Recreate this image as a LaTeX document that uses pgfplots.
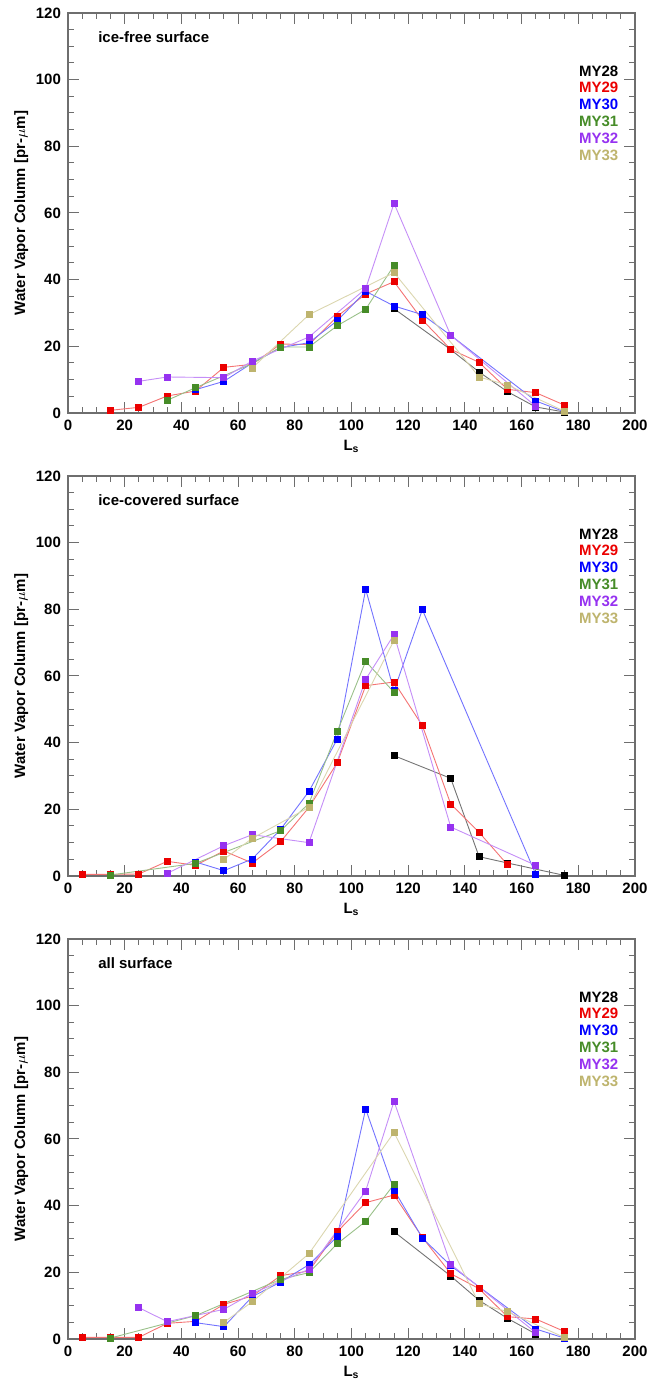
\documentclass[border=0pt]{standalone}
\usepackage{fontspec}
\setmainfont{Liberation Sans}
\usepackage{pgfplots}
\pgfplotsset{compat=1.18}
\definecolor{c28}{RGB}{0,0,0}
\definecolor{c29}{RGB}{235,0,0}
\definecolor{c30}{RGB}{0,0,255}
\definecolor{c31}{RGB}{70,140,40}
\definecolor{c32}{RGB}{150,50,240}
\definecolor{c33}{RGB}{190,180,110}
\definecolor{axgray}{RGB}{110,110,110}
\pgfplotsset{
 panel/.style={scale only axis, width=283.5pt, height=200pt,
   xmin=0, xmax=200, ymin=0, ymax=120,
   xtick={0,20,...,200}, ytick={0,20,...,120},
   minor x tick num=3, minor y tick num=3,
   tick align=inside, major tick length=5.5pt, minor tick length=2.8pt,
   tick style={axgray, line width=0.5pt},
   axis line style={axgray, line width=0.6pt},
   clip=false,
   /pgf/number format/assume math mode=true,
   ticklabel style={font=\fontsize{7.5}{9}\selectfont\bfseries},
   label style={font=\fontsize{7.5}{9}\selectfont\bfseries},
   xlabel={L\textsubscript{s}},
   ylabel={Water Vapor Column [pr-$\mu$m]},
   ylabel shift=-3pt, xlabel shift=-2pt,
   anchor=south west},
 ser/.style={color=#1!55, line width=0.45pt, mark=square*, mark size=1.5pt,
   mark options={draw=#1, fill=#1, solid}},
}
\newcommand{\legendtext}{%
  \node[anchor=east, text=c28, font=\fontsize{7.5}{9}\selectfont\bfseries] at (rel axis cs:0.983,0.855) {MY28};
  \node[anchor=east, text=c29, font=\fontsize{7.5}{9}\selectfont\bfseries] at (rel axis cs:0.983,0.813) {MY29};
  \node[anchor=east, text=c30, font=\fontsize{7.5}{9}\selectfont\bfseries] at (rel axis cs:0.983,0.771) {MY30};
  \node[anchor=east, text=c31, font=\fontsize{7.5}{9}\selectfont\bfseries] at (rel axis cs:0.983,0.729) {MY31};
  \node[anchor=east, text=c32, font=\fontsize{7.5}{9}\selectfont\bfseries] at (rel axis cs:0.983,0.687) {MY32};
  \node[anchor=east, text=c33, font=\fontsize{7.5}{9}\selectfont\bfseries] at (rel axis cs:0.983,0.645) {MY33};
}
\begin{document}
\begin{tikzpicture}
\path[use as bounding box] (0,0) rectangle (324pt,696pt);
% ---------------- Panel 1: ice-free surface
\begin{axis}[panel, at={(34pt,489.5pt)}]
\addplot[ser=c28] coordinates {(115,31.3)(135,19.0)(145,12.3)(155,6.4)(165,1.8)(175,0.3)};
\addplot[ser=c29] coordinates {(15,0.8)(25,1.7)(35,5.1)(45,6.6)(55,13.7)(65,14.6)(75,20.7)(85,20.5)(95,29.0)(105,35.7)(115,39.4)(125,27.9)(135,19.1)(145,15.2)(155,7.1)(165,6.1)(175,2.4)};
\addplot[ser=c30] coordinates {(45,7.0)(55,9.5)(65,15.0)(75,19.6)(85,21.1)(95,27.7)(105,36.5)(115,32.1)(125,29.5)(135,23.3)(165,3.6)(175,0.4)};
\addplot[ser=c31] coordinates {(35,3.8)(45,7.6)(65,14.8)(75,19.8)(85,19.8)(95,26.2)(105,31.1)(115,44.3)};
\addplot[ser=c32] coordinates {(25,9.5)(35,10.8)(55,10.6)(65,15.6)(85,22.8)(105,37.3)(115,62.9)(135,23.3)(165,2.0)};
\addplot[ser=c33] coordinates {(65,13.5)(85,29.5)(115,42.1)(145,10.8)(155,8.4)(175,0.6)};
\node[anchor=west, font=\fontsize{7.5}{9}\selectfont\bfseries] at (rel axis cs:0.041,0.94) {ice-free surface};
\legendtext
\end{axis}
% ---------------- Panel 2: ice-covered surface
\begin{axis}[panel, at={(34pt,258pt)}]
\addplot[ser=c28] coordinates {(115,36.1)(135,29.3)(145,5.8)(155,3.9)(175,0.2)};
\addplot[ser=c29] coordinates {(5,0.5)(15,0.5)(25,0.6)(35,4.4)(45,3.2)(55,7.5)(65,3.9)(75,10.3)(85,20.6)(95,34.0)(105,57.1)(115,58.2)(125,45.1)(135,21.6)(145,13.1)(155,3.4)};
\addplot[ser=c30] coordinates {(45,4.2)(55,1.6)(65,5.1)(75,14.0)(85,25.4)(95,41.1)(105,86.0)(115,55.6)(125,79.9)(165,0.5)};
\addplot[ser=c31] coordinates {(15,0.3)(45,3.8)(75,13.6)(85,21.8)(95,43.4)(105,64.4)(115,55.1)};
\addplot[ser=c32] coordinates {(35,0.8)(55,9.1)(65,12.4)(85,10.0)(105,59.0)(115,72.4)(135,14.7)(165,3.2)};
\addplot[ser=c33] coordinates {(55,5.0)(65,11.3)(85,20.6)(115,70.7)};
\node[anchor=west, font=\fontsize{7.5}{9}\selectfont\bfseries] at (rel axis cs:0.041,0.94) {ice-covered surface};
\legendtext
\end{axis}
% ---------------- Panel 3: all surface
\begin{axis}[panel, at={(34pt,26.5pt)}]
\addplot[ser=c28] coordinates {(115,32.2)(135,18.9)(145,11.6)(155,6.2)(165,1.5)};
\addplot[ser=c29] coordinates {(5,0.5)(15,0.5)(25,0.5)(35,4.7)(45,5.3)(55,10.4)(65,12.9)(75,19.0)(85,20.4)(95,32.2)(105,40.9)(115,43.2)(125,30.5)(135,19.6)(145,15.1)(155,6.7)(165,6.0)(175,2.3)};
\addplot[ser=c30] coordinates {(45,4.9)(55,3.7)(65,12.7)(75,17.1)(85,22.3)(95,30.8)(105,69.0)(115,44.7)(125,30.3)(135,22.0)(165,3.0)(175,0.3)};
\addplot[ser=c31] coordinates {(15,0.3)(45,7.0)(75,17.9)(85,19.9)(95,28.6)(105,35.3)(115,46.4)};
\addplot[ser=c32] coordinates {(25,9.4)(35,5.2)(55,8.9)(65,13.7)(85,20.9)(105,44.4)(115,71.3)(135,22.4)(165,1.9)};
\addplot[ser=c33] coordinates {(55,5.0)(65,11.2)(85,25.6)(115,62.0)(145,10.6)(155,8.2)(175,0.5)};
\node[anchor=west, font=\fontsize{7.5}{9}\selectfont\bfseries] at (rel axis cs:0.041,0.94) {all surface};
\legendtext
\end{axis}
\end{tikzpicture}
\end{document}
